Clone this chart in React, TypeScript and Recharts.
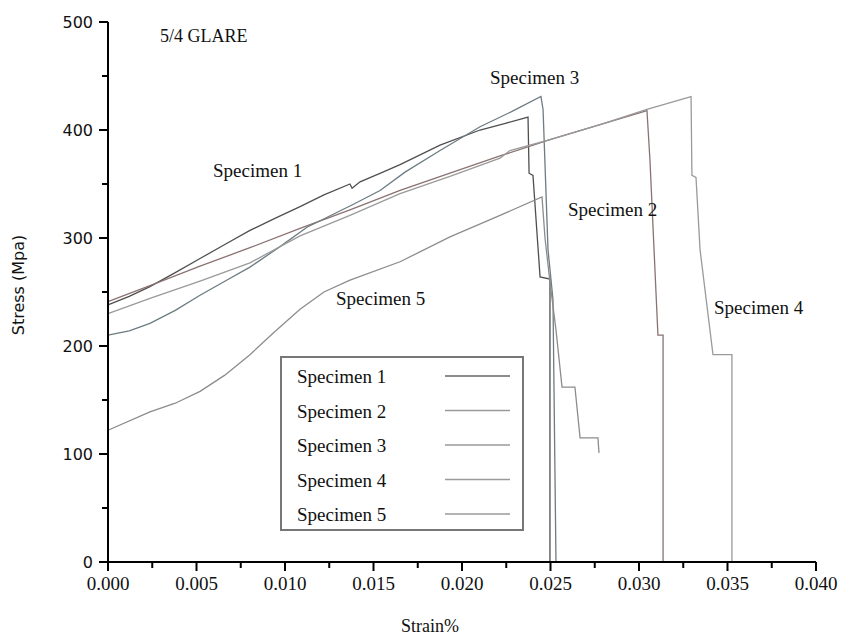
import React from "react";
import { LineChart, Line, XAxis, YAxis } from "recharts";

// Tick values
const xTicks = [0, 0.0025, 0.005, 0.0075, 0.01, 0.0125, 0.015, 0.0175, 0.02, 0.0225, 0.025, 0.0275, 0.03, 0.0325, 0.035, 0.0375, 0.04];
const yTicks = [0, 50, 100, 150, 200, 250, 300, 350, 400, 450, 500];

// Specimen 1
const s1Strain = [0, 0.0012, 0.00237, 0.0038, 0.0052, 0.0066, 0.00802, 0.0094, 0.01085, 0.0122, 0.01367, 0.01379, 0.01424, 0.0154, 0.0165, 0.01876, 0.02102, 0.0224, 0.02373, 0.02379, 0.02401, 0.02441, 0.02497, 0.02497];
const s1Stress = [238, 246, 255, 268, 281, 294, 307, 318, 329, 340, 350, 346, 352, 360, 368, 386, 400, 406, 412, 360, 358, 264, 262, 0];
// Specimen 2
const s2Strain = [0, 0.00237, 0.0052, 0.00802, 0.01085, 0.01367, 0.0165, 0.01932, 0.02215, 0.02497, 0.0278, 0.03045, 0.03062, 0.03107, 0.03136, 0.03136];
const s2Stress = [241, 256, 274, 291, 309, 326, 344, 360, 376, 391, 405, 418, 372, 210, 210, 0];
// Specimen 3
const s3Strain = [0, 0.0012, 0.00237, 0.0038, 0.0052, 0.0066, 0.00802, 0.00972, 0.01124, 0.01384, 0.01537, 0.01678, 0.01876, 0.02102, 0.0228, 0.02446, 0.02458, 0.02486, 0.02514, 0.02531];
const s3Stress = [210, 214, 221, 233, 247, 260, 273, 292, 310, 331, 344, 361, 381, 403, 417, 431, 419, 289, 243, 0];
// Specimen 4
const s4Strain = [0, 0.00237, 0.0052, 0.00802, 0.01085, 0.01367, 0.0165, 0.01932, 0.02215, 0.02271, 0.02497, 0.0278, 0.03045, 0.03294, 0.03299, 0.03322, 0.03345, 0.03418, 0.03525, 0.03525];
const s4Stress = [230, 244, 260, 277, 302, 321, 341, 357, 374, 381, 391, 405, 419, 431, 358, 356, 289, 192, 192, 0];
// Specimen 5
const s5Strain = [0, 0.00237, 0.0038, 0.0052, 0.0066, 0.00802, 0.0094, 0.01085, 0.0122, 0.01367, 0.0165, 0.01932, 0.02215, 0.02452, 0.02469, 0.02497, 0.02531, 0.02565, 0.02638, 0.02667, 0.02768, 0.02774];
const s5Stress = [122, 139, 147, 158, 173, 192, 213, 234, 250, 261, 278, 301, 321, 338, 300, 259, 215, 162, 162, 115, 115, 101];

const seriesNames = ["Specimen 1", "Specimen 2", "Specimen 3", "Specimen 4", "Specimen 5"];
const seriesColors = ["#4f4f4f", "#8a7272", "#6d7c82", "#9a9a9a", "#8c8c8c"];
const legendColors = ["#666666", "#9a9a9a", "#9a9a9a", "#9a9a9a", "#9a9a9a"];

const zip = (xs: number[], ys: number[]) => xs.map((x, i) => ({ x, y: ys[i] }));
const seriesData = [
  zip(s1Strain, s1Stress),
  zip(s2Strain, s2Stress),
  zip(s3Strain, s3Stress),
  zip(s4Strain, s4Stress),
  zip(s5Strain, s5Stress),
];

const SERIF = "Liberation Serif";
const SANS = "DejaVu Sans";

// chart geometry (shared by the Recharts chart and the axis-decoration overlay)
const W = 849;
const H = 638;
const MARGIN = { top: 22, right: 33, bottom: 26, left: 48 };
const Y_AXIS_W = 60;
const X_AXIS_H = 50;
const X_DOMAIN = [0, 0.04];
const Y_DOMAIN = [0, 500];
const PLOT_L = MARGIN.left + Y_AXIS_W;
const PLOT_R = W - MARGIN.right;
const PLOT_T = MARGIN.top;
const PLOT_B = H - MARGIN.bottom - X_AXIS_H;
const sx = (v: number) => PLOT_L + ((v - X_DOMAIN[0]) / (X_DOMAIN[1] - X_DOMAIN[0])) * (PLOT_R - PLOT_L);
const sy = (v: number) => PLOT_B - ((v - Y_DOMAIN[0]) / (Y_DOMAIN[1] - Y_DOMAIN[0])) * (PLOT_B - PLOT_T);

const T = (p: any) => (
  <text x={p.x} y={p.y} textAnchor={p.anchor || "start"} fill="#111" style={{ fontFamily: p.font || SERIF, fontSize: p.size || 19 }} transform={p.transform}>
    {p.children}
  </text>
);

const Overlay = () => (
  <svg width={W} height={H} style={{ position: "absolute", left: 0, top: 0, pointerEvents: "none" }}>
    {xTicks.map((v) => {
      const major = Math.abs(v / 0.005 - Math.round(v / 0.005)) < 1e-6;
      const x = sx(v);
      return (
        <g key={"x" + v}>
          <line x1={x} x2={x} y1={PLOT_B} y2={PLOT_B + (major ? 9 : 6)} stroke="#000" strokeWidth={2} />
          {major && <T x={x} y={PLOT_B + 28} anchor="middle">{v.toFixed(3)}</T>}
        </g>
      );
    })}
    {yTicks.map((v) => {
      const major = v % 100 === 0;
      const y = sy(v);
      return (
        <g key={"y" + v}>
          <line x1={PLOT_L} x2={PLOT_L - (major ? 9 : 6)} y1={y} y2={y} stroke="#000" strokeWidth={2} />
          {major && <T x={PLOT_L - 15} y={y + 6} anchor="end" font={SANS} size={16}>{v}</T>}
        </g>
      );
    })}
    <T x={160} y={42} size={18}>5/4 GLARE</T>
    <T x={490} y={84}>Specimen 3</T>
    <T x={213} y={177}>Specimen 1</T>
    <T x={568} y={216}>Specimen 2</T>
    <T x={336} y={305}>Specimen 5</T>
    <T x={714} y={314}>Specimen 4</T>
    <T x={430} y={632} anchor="middle" size={18}>Strain%</T>
    <T x={24} y={285} anchor="middle" font={SANS} size={16} transform="rotate(-90 24 285)">Stress (Mpa)</T>
    <rect x={281} y={357} width={242} height={173} fill="#fff" stroke="#777" strokeWidth={2} />
    {seriesNames.map((n, i) => (
      <g key={n}>
        <T x={297} y={383 + i * 34.5}>{n}</T>
        <line x1={445} x2={510} y1={376 + i * 34.5} y2={376 + i * 34.5} stroke={legendColors[i]} strokeWidth={1.5} />
      </g>
    ))}
  </svg>
);

export default function App() {
  return (
    <div style={{ position: "absolute", left: 0, top: 0, width: W, height: H, background: "#fff" }}>
      <LineChart width={W} height={H} margin={MARGIN}>
        <XAxis
          type="number"
          dataKey="x"
          domain={X_DOMAIN}
          ticks={xTicks}
          interval={0}
          height={X_AXIS_H}
          tickLine={false}
          tick={false}
          axisLine={{ stroke: "#000", strokeWidth: 2 }}
        />
        <YAxis
          type="number"
          dataKey="y"
          domain={Y_DOMAIN}
          ticks={yTicks}
          interval={0}
          width={Y_AXIS_W}
          tickLine={false}
          tick={false}
          axisLine={{ stroke: "#000", strokeWidth: 2 }}
        />
        {seriesData.map((d, i) => (
          <Line
            key={seriesNames[i]}
            data={d}
            dataKey="y"
            name={seriesNames[i]}
            type="linear"
            stroke={seriesColors[i]}
            strokeWidth={1.3}
            dot={false}
            activeDot={false}
            isAnimationActive={false}
          />
        ))}
      </LineChart>
      <Overlay />
    </div>
  );
}
